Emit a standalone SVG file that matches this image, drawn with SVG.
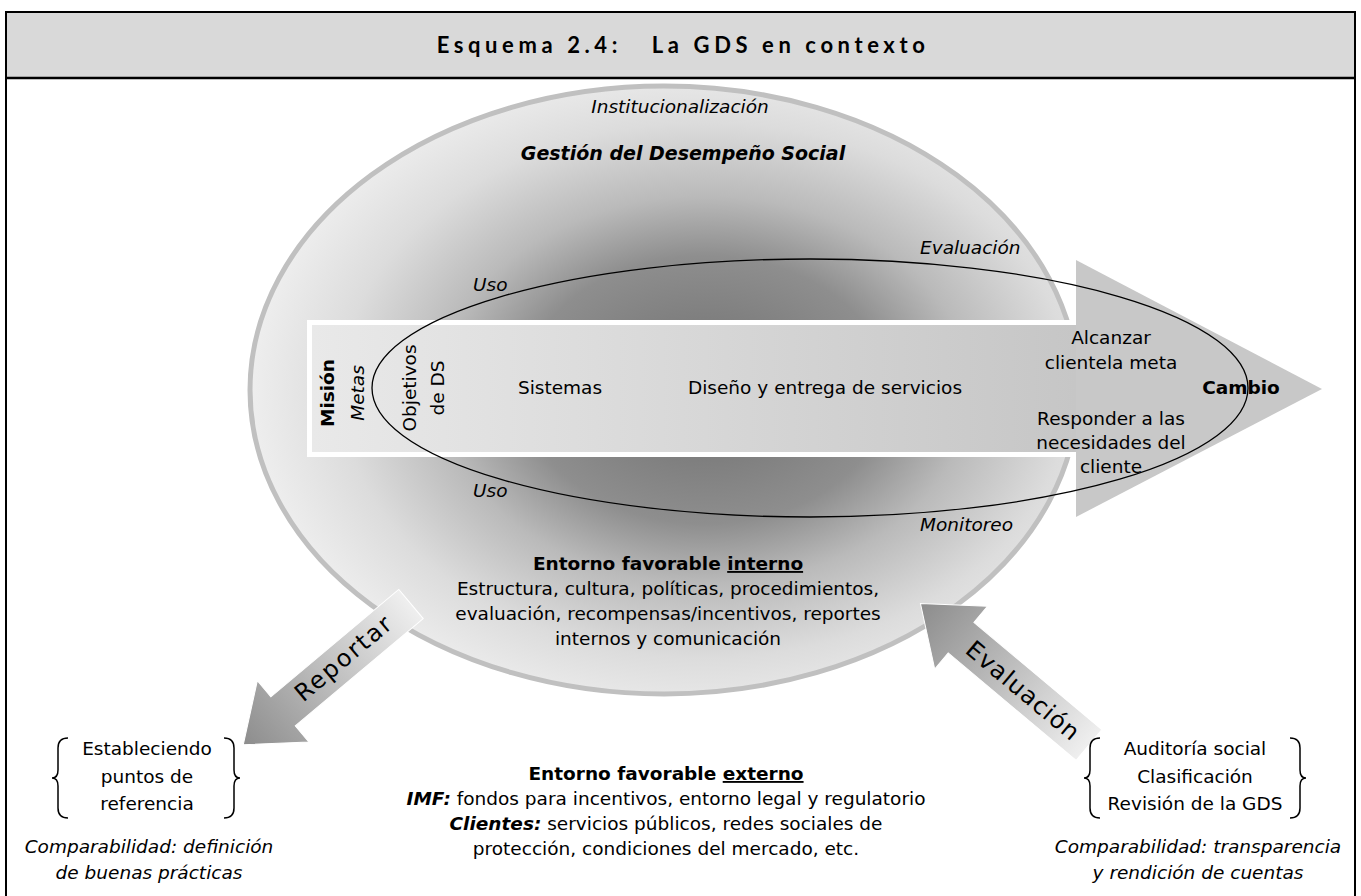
<svg xmlns="http://www.w3.org/2000/svg" width="1361" height="896" viewBox="0 0 1361 896">
<defs>
<style>
text{font-family:"DejaVu Sans","Verdana",sans-serif;font-size:18.5px;fill:#000}
.c{text-anchor:middle}
.i{font-style:italic}
.b{font-weight:bold}
.title{font-family:Lato,"Liberation Sans",sans-serif;font-weight:bold;font-size:22px;letter-spacing:4.6px;white-space:pre}
.big{font-size:24px}
.brace{fill:none;stroke:#000;stroke-width:1.5}
</style>
<radialGradient id="gEll" cx="0.55" cy="0.5" r="0.55">
<stop offset="0" stop-color="#6e6e6e"/>
<stop offset="0.4" stop-color="#8e8e8e"/>
<stop offset="0.58" stop-color="#bababa"/>
<stop offset="0.8" stop-color="#dcdcdc"/>
<stop offset="1" stop-color="#eeeeee"/>
</radialGradient>
<linearGradient id="gBand" gradientUnits="userSpaceOnUse" x1="312" y1="0" x2="1076" y2="0">
<stop offset="0" stop-color="#e9e9e9"/>
<stop offset="1" stop-color="#c6c6c6"/>
</linearGradient>
<linearGradient id="gArr" gradientUnits="userSpaceOnUse" x1="0" y1="0" x2="220" y2="0">
<stop offset="0" stop-color="#efefef"/>
<stop offset="1" stop-color="#8c8c8c"/>
</linearGradient>
</defs>

<rect x="0" y="0" width="1361" height="896" fill="#fff"/>

<g id="frame">
<rect x="6" y="12" width="1349" height="66" fill="#d9d9d9"/>
<rect x="6" y="12" width="1349" height="900" fill="none" stroke="#000" stroke-width="2"/>
<line x1="6" y1="78" x2="1355" y2="78" stroke="#000" stroke-width="2.5"/>
<text class="title c" x="683" y="53">Esquema 2.4:   La GDS en contexto</text>
</g>

<g id="gds-ellipse">
<ellipse cx="664" cy="390" rx="414" ry="304" fill="url(#gEll)" stroke="#c0c0c0" stroke-width="5"/>
<text class="i c" x="680" y="113">Institucionalización</text>
<text class="i b c" x="683" y="160" style="font-size:19px">Gestión del Desempeño Social</text>
</g>

<g id="main-arrow">
<rect x="312" y="325" width="766" height="127" fill="url(#gBand)"/>
<path d="M1077,322.5 H309.5 V454.5 H1077" fill="none" stroke="#fff" stroke-width="5"/>
<polygon points="1076,260 1322,389 1076,517" fill="#c8c8c8"/>
</g>

<g id="connectors">
<ellipse id="cycle" cx="810" cy="388" rx="438" ry="129" fill="none" stroke="#000" stroke-width="1.3"/>
<g id="arrow-reportar" transform="translate(411,604) rotate(140)">
<path d="M0,-19 L167,-19 L167,-40 L219,0 L167,40 L167,19 L0,19 Z" fill="url(#gArr)" stroke="#fff" stroke-width="1"/>
</g>
<g id="arrow-evaluacion" transform="translate(1089,745) rotate(-140)">
<path d="M0,-20 L167,-20 L167,-41 L220,0 L167,41 L167,20 L0,20 Z" fill="url(#gArr)" stroke="#fff" stroke-width="1"/>
</g>
<text class="big c" transform="translate(344,658) rotate(-40)" dominant-baseline="central" style="letter-spacing:2px">Reportar</text>
<text class="big c" transform="translate(1023,691) rotate(40)" dominant-baseline="central" style="letter-spacing:1px">Evaluación</text>
</g>

<g id="labels-cycle">
<text class="i" x="920" y="254">Evaluación</text>
<text class="i" x="473" y="291">Uso</text>
<text class="i" x="473" y="497">Uso</text>
<text class="i" x="920" y="531">Monitoreo</text>
</g>

<g id="mision">
<text class="b c" transform="translate(334,393) rotate(-90)">Misión</text>
<text class="i c" transform="translate(364,393) rotate(-90)">Metas</text>
<text class="c" transform="translate(416,388) rotate(-90)">Objetivos</text>
<text class="c" transform="translate(444,388) rotate(-90)">de DS</text>
</g>

<g id="sistemas"><text class="c" x="560" y="394">Sistemas</text></g>
<g id="diseno"><text class="c" x="825" y="394">Diseño y entrega de servicios</text></g>

<g id="alcanzar">
<text class="c" x="1111" y="344">Alcanzar</text>
<text class="c" x="1111" y="369">clientela meta</text>
</g>
<g id="responder">
<text class="c" x="1111" y="425">Responder a las</text>
<text class="c" x="1111" y="449">necesidades del</text>
<text class="c" x="1111" y="473">cliente</text>
</g>
<g id="cambio"><text class="b c" x="1241" y="394">Cambio</text></g>

<g id="entorno-interno">
<text class="c" x="668" y="570"><tspan class="b">Entorno favorable </tspan><tspan class="b" text-decoration="underline">interno</tspan></text>
<text class="c" x="668" y="595">Estructura, cultura, políticas, procedimientos,</text>
<text class="c" x="668" y="620">evaluación, recompensas/incentivos, reportes</text>
<text class="c" x="668" y="645">internos y comunicación</text>
</g>

<g id="entorno-externo">
<text class="c" x="666" y="780"><tspan class="b">Entorno favorable </tspan><tspan class="b" text-decoration="underline">externo</tspan></text>
<text class="c" x="666" y="805"><tspan class="b i">IMF:</tspan> fondos para incentivos, entorno legal y regulatorio</text>
<text class="c" x="666" y="830"><tspan class="b i">Clientes:</tspan> servicios públicos, redes sociales de</text>
<text class="c" x="666" y="855">protección, condiciones del mercado, etc.</text>
</g>

<g id="referencia">
<path class="brace" d="M68,738 Q58,738 58,748 L58,770 Q58,778 52,778 Q58,778 58,786 L58,808 Q58,818 68,818"/>
<path class="brace" d="M224,738 Q234,738 234,748 L234,770 Q234,778 240,778 Q234,778 234,786 L234,808 Q234,818 224,818"/>
<text class="c" x="147" y="755">Estableciendo</text>
<text class="c" x="147" y="783">puntos de</text>
<text class="c" x="147" y="810">referencia</text>
<text class="i c" x="149" y="853">Comparabilidad: definición</text>
<text class="i c" x="149" y="879">de buenas prácticas</text>
</g>

<g id="auditoria">
<path class="brace" d="M1100,738 Q1090,738 1090,748 L1090,770 Q1090,778 1084,778 Q1090,778 1090,786 L1090,808 Q1090,818 1100,818"/>
<path class="brace" d="M1290,738 Q1300,738 1300,748 L1300,770 Q1300,778 1306,778 Q1300,778 1300,786 L1300,808 Q1300,818 1290,818"/>
<text class="c" x="1195" y="755">Auditoría social</text>
<text class="c" x="1195" y="783">Clasificación</text>
<text class="c" x="1195" y="810">Revisión de la GDS</text>
<text class="i c" x="1198" y="853">Comparabilidad: transparencia</text>
<text class="i c" x="1198" y="879">y rendición de cuentas</text>
</g>
</svg>
